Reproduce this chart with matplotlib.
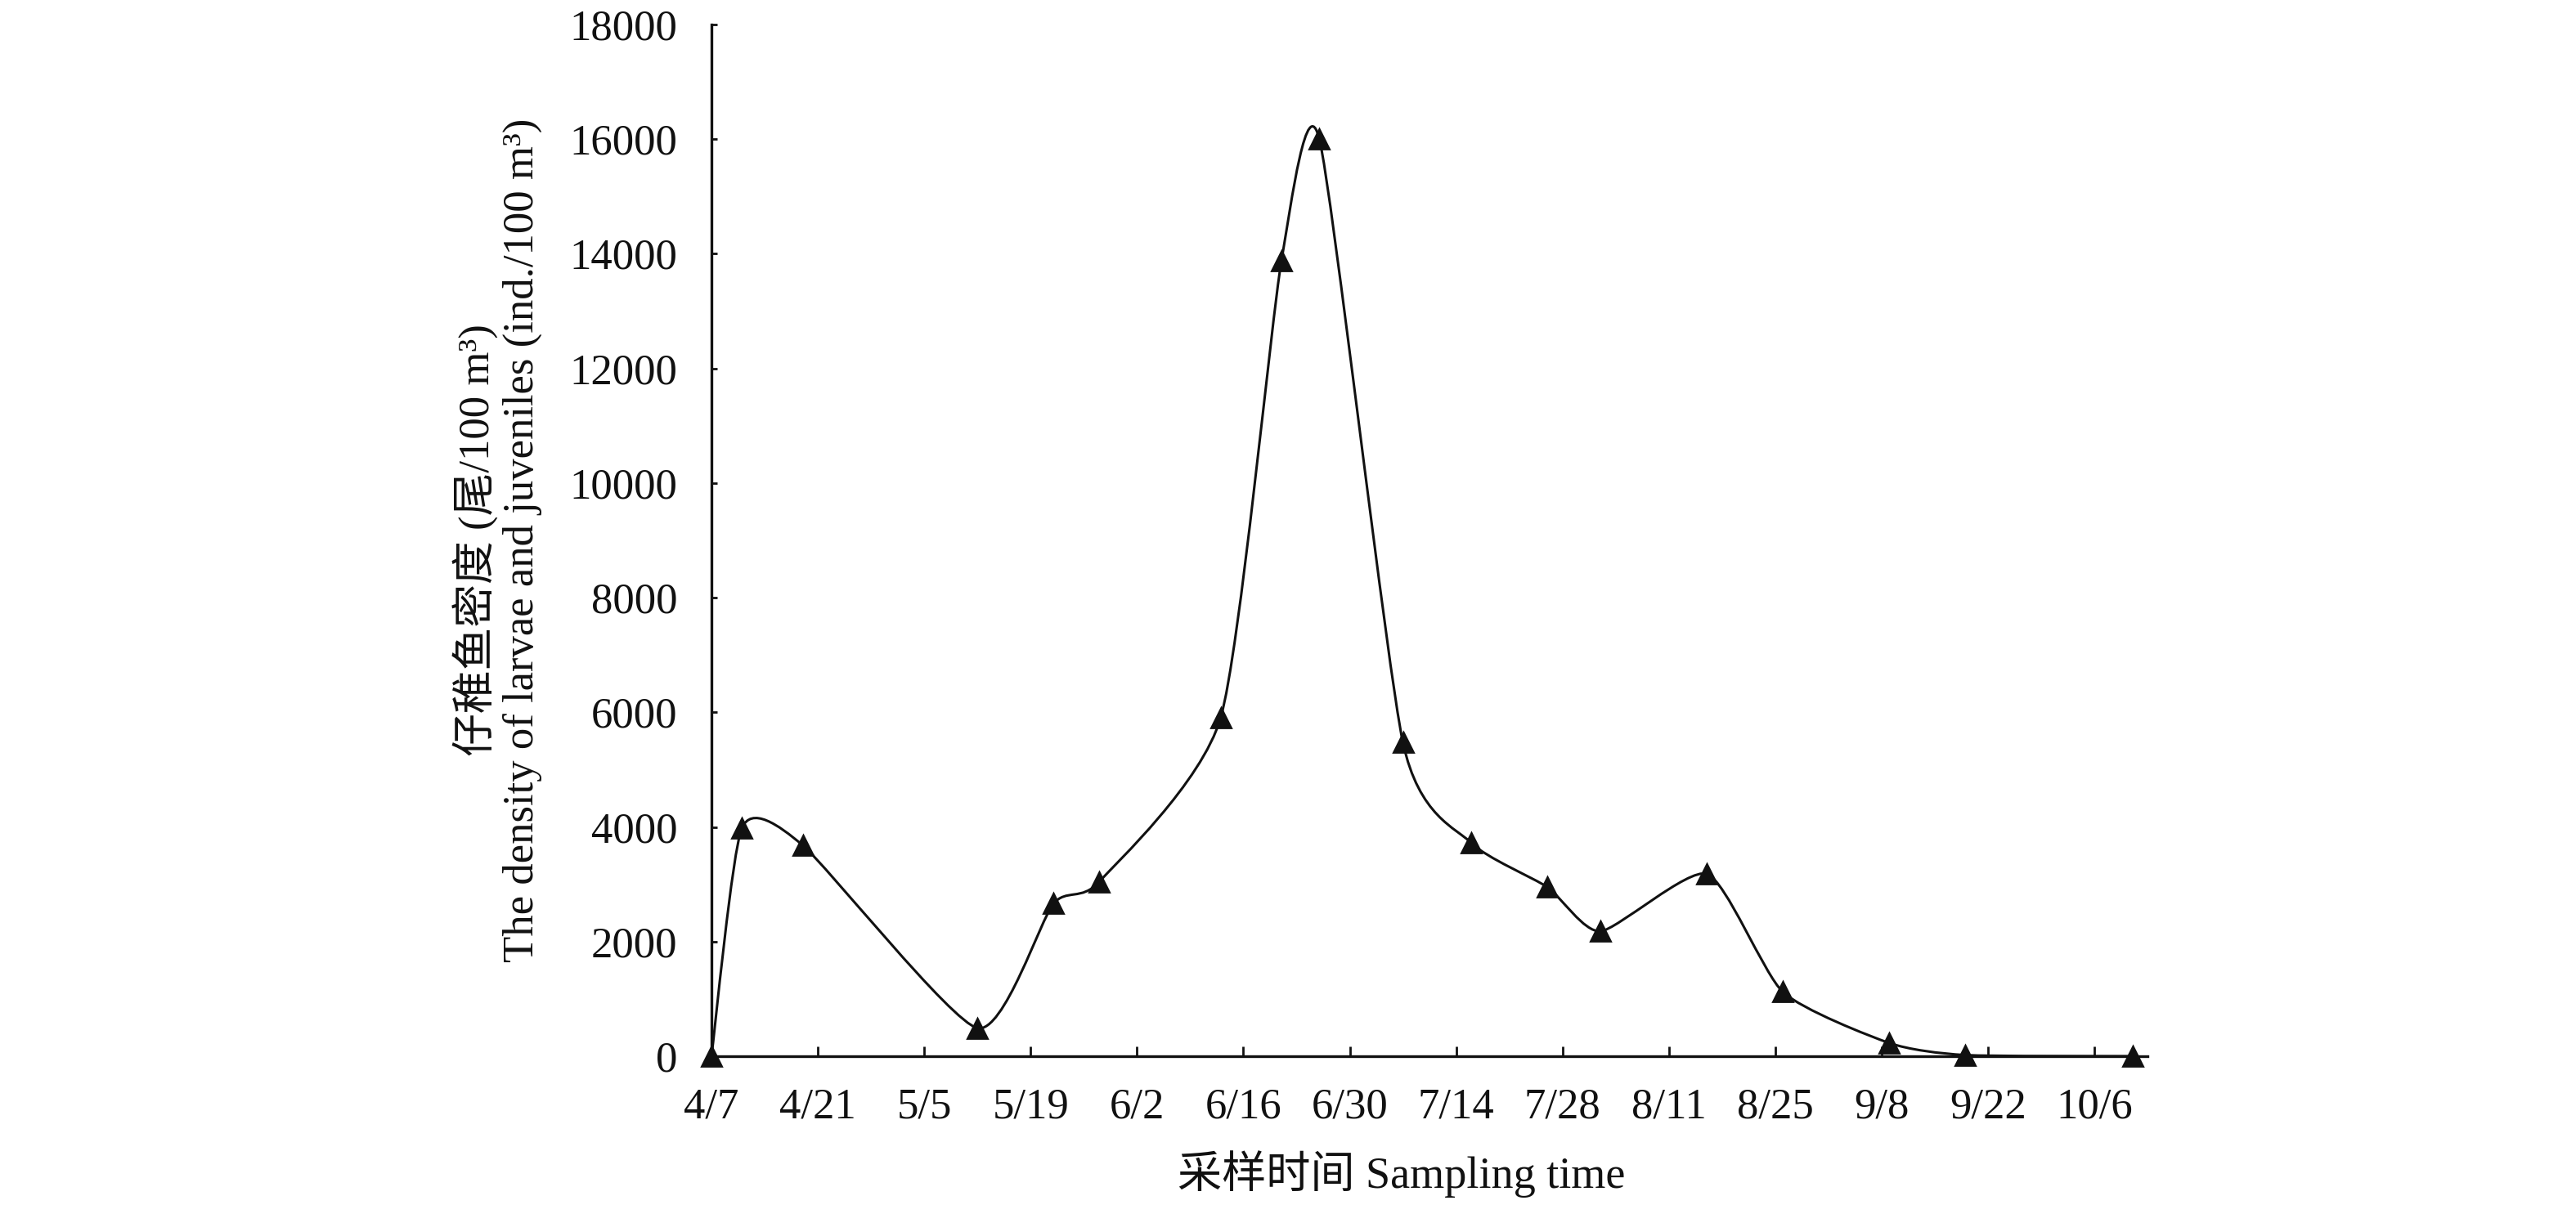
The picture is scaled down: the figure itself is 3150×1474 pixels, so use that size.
import numpy as np
import pandas as pd
import matplotlib
matplotlib.use('Agg')
import matplotlib.pyplot as plt
import matplotlib.dates as mdates
from matplotlib.path import Path
from matplotlib.patches import PathPatch

plt.rcParams['font.family'] = ['Liberation Serif', 'Noto Sans CJK SC', 'DejaVu Sans']

# sampling dates and density (ind./100 m3)
dates = ['4/7', '4/11', '4/19', '5/12', '5/22', '5/28', '6/13', '6/21', '6/26',
         '7/7', '7/16', '7/26', '8/2', '8/16', '8/26', '9/9', '9/19', '10/11']
density = [0, 3980, 3680, 490, 2660, 3040, 5900, 13870, 16000,
           5470, 3720, 2950, 2180, 3180, 1120, 230, 20, 0]

year = '2019/'
x = mdates.date2num(pd.to_datetime([year + d for d in dates]))
y = np.array(density, dtype=float)

start = pd.Timestamp(year + '4/7')
ticks = pd.date_range(start, periods=14, freq='14D')
tick_labels = [f'{t.month}/{t.day}' for t in ticks]
yticks = np.arange(0, 18001, 2000)

fig = plt.figure(figsize=(15.75, 7.37), dpi=200)
ax = fig.add_axes([0.2762, 0.1235, 0.5575, 0.8562])

# smoothed line: bezier through the points, tangents from the neighbours
tension = 0.105
pts = np.column_stack([x, y])
n = len(pts)
verts = [pts[0]]
codes = [Path.MOVETO]
for i in range(n - 1):
    p0 = pts[i - 1] if i > 0 else pts[i]
    p1 = pts[i]
    p2 = pts[i + 1]
    p3 = pts[i + 2] if i + 2 < n else pts[i + 1]
    c1 = p1 + (p2 - p0) * tension
    c2 = p2 - (p3 - p1) * tension
    verts += [c1, c2, p2]
    codes += [Path.CURVE4] * 3
ax.add_patch(PathPatch(Path(verts, codes), facecolor='none',
                       edgecolor='#111111', linewidth=1.1))

ax.plot(x, y, linestyle='none', marker='^', markersize=8.5,
        color='#111111', clip_on=False, zorder=3)

ax.set_xlim(mdates.date2num(start), mdates.date2num(start) + 189)
ax.set_ylim(0, 18000)
ax.set_xticks(mdates.date2num(ticks))
ax.set_xticklabels(tick_labels)
ax.set_yticks(yticks)
ax.set_yticklabels([str(v) for v in yticks])

for s in ['top', 'right']:
    ax.spines[s].set_visible(False)
for s in ['left', 'bottom']:
    ax.spines[s].set_linewidth(1.2)
    ax.spines[s].set_color('#111111')

ax.tick_params(axis='x', direction='in', length=4.5, width=1.0,
               labelsize=19, pad=14, colors='#111111')
ax.tick_params(axis='y', direction='in', length=2.6, width=1.0,
               labelsize=19, pad=15, colors='#111111')

ax.set_xlabel('采样时间 Sampling time', fontsize=19.5, color='#111111', va='center')
ax.xaxis.set_label_coords(0.4806, -0.114)
ax.set_ylabel('仔稚鱼密度 (尾/100 m³)\nThe density of larvae and juveniles (ind./100 m³)',
              fontsize=19, color='#111111', va='center', linespacing=1.15)
ax.yaxis.set_label_coords(-0.149, 0.5)

fig.savefig('out.png', dpi=200)
